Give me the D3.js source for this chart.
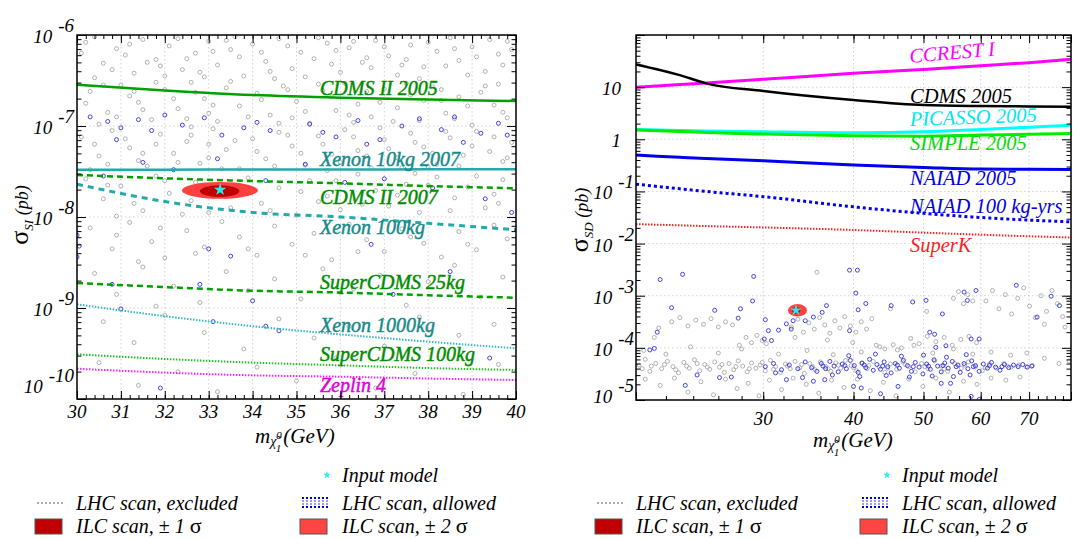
<!DOCTYPE html>
<html>
<head>
<meta charset="utf-8">
<script src="https://cdnjs.cloudflare.com/ajax/libs/d3/7.8.5/d3.min.js"></script>
<style>
  body { margin: 0; background: #fff; }
</style>
</head>
<body>
<div id="chart"></div>
<script>
// ---- data (cross sections as log10 of pb) ----
var leftMass = [30, 32, 34, 36, 38, 40];
var siCdms2005   = [-6.546, -6.61, -6.66, -6.69, -6.71, -6.725];
var siXenon10    = [-7.48, -7.48, -7.478, -7.478, -7.476, -7.476];
var siCdms2007   = [-7.538, -7.575, -7.605, -7.63, -7.66, -7.685];
var siXenon100   = [-7.64, -7.83, -7.95, -8.0, -8.07, -8.14];
var siSuper25    = [-8.725, -8.77, -8.81, -8.83, -8.86, -8.887];
var siXenon1000  = [-8.959, -9.09, -9.2, -9.29, -9.37, -9.443];
var siSuper100   = [-9.509, -9.56, -9.6, -9.63, -9.66, -9.681];
var siZeplin4    = [-9.667, -9.71, -9.74, -9.755, -9.775, -9.791];

var rightMass = [20, 23, 25, 30, 40, 50, 60, 70, 80];
var sdCcrest   = [1.0, 1.05, 1.08, 1.15, 1.265, 1.34, 1.41, 1.47, 1.534];
var sdCdms2005 = [1.437, 1.23, 1.073, 0.925, 0.752, 0.656, 0.637, 0.63, 0.624];
var sdPicasso  = [0.19, 0.17, 0.16, 0.144, 0.125, 0.144, 0.19, 0.23, 0.267];
var sdSimple   = [0.177, 0.15, 0.13, 0.1, 0.067, 0.06, 0.08, 0.097, 0.113];
var sdNaiad    = [-0.303, -0.345, -0.37, -0.413, -0.495, -0.54, -0.572, -0.576, -0.578];
var sdNaiad100 = [-0.86, -0.95, -1.0, -1.10, -1.296, -1.42, -1.5, -1.55, -1.584];
var sdSuperK   = [-1.628, -1.65, -1.665, -1.69, -1.74, -1.79, -1.83, -1.86, -1.883];

// input model and ILC ellipses: [mass, log sigma]; ranges [[m0, m1], [s0, s1]]
var inputSI = [33.26, -7.70];
var ilcSI1 = [[32.8, 33.7], [-7.78, -7.65]];
var ilcSI2 = [[32.39, 34.12], [-7.80, -7.615]];
var inputSD = [33.3, -3.28];
var ilcSD1 = [[32.9, 33.75], [-3.34, -3.22]];
var ilcSD2 = [[32.46, 34.49], [-3.40, -3.16]];

// LHC scan points [mass, log sigma]
var siExcluded = [
  [30.2,-6.08],[30.6,-6.31],[30.9,-6.15],[31.3,-6.42],[31.5,-6.05],[31.8,-6.27],[32.1,-6.12],[32.4,-6.38],[32.7,-6.2],[33.0,-6.07],
  [33.2,-6.33],[33.5,-6.16],[33.8,-6.45],[34.0,-6.1],[34.3,-6.29],[34.6,-6.04],[34.9,-6.37],[35.1,-6.19],[35.4,-6.26],[35.7,-6.09],
  [36.0,-6.41],[36.2,-6.14],[36.5,-6.3],[36.8,-6.06],[37.1,-6.23],[37.3,-6.44],[37.6,-6.11],[37.9,-6.35],[38.2,-6.18],[38.5,-6.03],
  [38.7,-6.28],[39.0,-6.13],[39.3,-6.4],[39.6,-6.21],[39.8,-6.07],[30.4,-6.47],[31.1,-6.22],[32.9,-6.46],[34.5,-6.48],[35.9,-6.17],
  [37.4,-6.33],[38.9,-6.44],[33.6,-6.02],[36.6,-6.25],[31.9,-6.34],
  [30.1,-6.2],[30.4,-6.02],[30.8,-6.38],[31.2,-6.1],[31.6,-6.3],[32.0,-6.45],[32.3,-6.04],[32.5,-6.26],[32.8,-6.41],[33.1,-6.18],
  [33.4,-6.06],[33.7,-6.24],[34.2,-6.19],[34.4,-6.4],[34.8,-6.12],[35.2,-6.46],[35.5,-6.03],[35.8,-6.32],[36.3,-6.07],[36.7,-6.36],
  [37.0,-6.13],[37.2,-6.02],[37.5,-6.27],[37.8,-6.48],[38.0,-6.08],[38.4,-6.34],[38.6,-6.15],[39.1,-6.24],[39.4,-6.05],[39.7,-6.33],
  [39.9,-6.16],
  [30.3,-6.62],[30.7,-6.85],[31.0,-6.55],[31.4,-6.74],[31.7,-6.93],[32.0,-6.6],[32.3,-6.81],[32.6,-6.52],[32.9,-6.7],[33.2,-6.95],
  [33.4,-6.58],[33.7,-6.78],[34.1,-6.64],[34.4,-6.88],[34.7,-6.56],[35.0,-6.73],[35.3,-6.97],[35.6,-6.61],[35.9,-6.83],[36.1,-6.53],
  [36.4,-6.76],[36.7,-6.9],[37.0,-6.59],[37.3,-6.8],[37.6,-6.66],[37.8,-6.94],[38.1,-6.57],[38.4,-6.86],[38.7,-6.68],[39.0,-6.99],
  [39.2,-6.63],[39.5,-6.77],[39.8,-6.91],[30.5,-6.98],[31.2,-6.67],[33.0,-6.86],[34.9,-6.91],[36.3,-6.96],[38.3,-6.72],[39.6,-6.54],
  [30.2,-6.75],[30.6,-6.55],[30.9,-6.9],[31.3,-6.62],[31.5,-6.82],[31.8,-6.52],[32.2,-6.7],[32.5,-6.92],[32.7,-6.63],[33.1,-6.77],
  [33.5,-6.51],[33.9,-6.9],[34.2,-6.71],[34.6,-6.97],[34.8,-6.6],[35.2,-6.84],[35.5,-6.54],[35.8,-6.68],[36.2,-6.88],[36.6,-6.62],
  [36.9,-6.74],[37.2,-6.95],[37.5,-6.53],[37.9,-6.72],[38.3,-6.6],[38.6,-6.92],[38.9,-6.78],[39.3,-6.56],[39.7,-6.85],
  [30.1,-7.12],[30.5,-7.33],[30.8,-7.05],[31.2,-7.24],[31.6,-7.44],[31.9,-7.09],[32.2,-7.3],[32.5,-7.17],[32.8,-7.41],[33.1,-7.03],
  [33.4,-7.26],[33.7,-7.47],[34.0,-7.14],[34.3,-7.36],[34.6,-7.07],[34.9,-7.22],[35.2,-7.43],[35.5,-7.11],[35.8,-7.31],[36.1,-7.04],
  [36.4,-7.27],[36.7,-7.46],[37.0,-7.15],[37.3,-7.35],[37.6,-7.08],[37.9,-7.23],[38.2,-7.42],[38.5,-7.13],[38.8,-7.32],[39.1,-7.06],
  [39.4,-7.28],[39.7,-7.39],[30.3,-7.48],[31.4,-7.38],[33.0,-7.2],[35.7,-7.49],[36.9,-7.02],[38.0,-7.45],[39.9,-7.18],[32.6,-7.01],
  [30.4,-7.2],[30.7,-7.42],[31.1,-7.14],[31.5,-7.3],[31.8,-7.2],[32.3,-7.4],[32.6,-7.1],[33.0,-7.35],[33.3,-7.47],[33.6,-7.16],
  [34.1,-7.28],[34.5,-7.44],[34.8,-7.1],[35.1,-7.3],[35.6,-7.2],[36.0,-7.4],[36.3,-7.12],[36.6,-7.33],[37.1,-7.25],[37.4,-7.46],
  [37.7,-7.18],[38.1,-7.3],[38.4,-7.06],[38.7,-7.44],[39.0,-7.22],[39.5,-7.12],[39.8,-7.35],
  [30.2,-7.58],[30.6,-7.8],[31.0,-7.66],[31.5,-7.93],[31.8,-7.55],[32.1,-7.74],[32.4,-7.97],[32.7,-7.62],[33.5,-7.9],[33.9,-7.57],
  [34.2,-7.85],[34.6,-7.68],[35.0,-7.98],[35.3,-7.6],[35.7,-7.77],[36.0,-7.92],[36.4,-7.53],[36.8,-7.71],[37.1,-7.88],[37.5,-7.64],
  [37.8,-7.95],[38.2,-7.56],[38.6,-7.79],[38.9,-7.67],[39.3,-7.9],[39.7,-7.59],[30.9,-7.99],[35.5,-7.83],[37.7,-7.52],[39.5,-7.75],
  [30.7,-7.65],[31.3,-7.85],[32.0,-7.6],[32.6,-7.82],[33.0,-7.95],[33.8,-7.7],[34.4,-7.93],[35.1,-7.72],[35.9,-7.6],[36.5,-7.86],
  [37.3,-7.76],[38.0,-7.65],[38.5,-7.93],[39.1,-7.55],[39.6,-7.85],
  [30.3,-8.12],[30.8,-8.35],[31.2,-8.06],[31.7,-8.27],[32.0,-8.45],[32.5,-8.15],[32.9,-8.33],[33.3,-8.05],[33.7,-8.22],[34.1,-8.42],
  [34.5,-8.1],[34.9,-8.3],[35.4,-8.18],[35.8,-8.47],[36.2,-8.08],[36.6,-8.25],[37.0,-8.38],[37.4,-8.13],[37.9,-8.29],[38.3,-8.44],
  [38.7,-8.16],[39.1,-8.36],[39.5,-8.09],[39.8,-8.24],[31.4,-8.49],
  [30.9,-8.2],[31.9,-8.12],[32.7,-8.4],[33.9,-8.35],[35.2,-8.42],[36.4,-8.38],[37.6,-8.22],[38.9,-8.3],
  [30.4,-8.62],[30.9,-8.85],[31.5,-8.55],[32.2,-8.76],[32.8,-8.94],[33.4,-8.6],[33.9,-8.81],[34.5,-8.68],[35.1,-8.9],[35.6,-8.57],
  [36.3,-8.79],[36.9,-8.64],[37.5,-8.97],[38.0,-8.71],[38.6,-8.53],[39.2,-8.88],[39.7,-8.66],[31.8,-8.98],
  [30.6,-9.15],[31.3,-9.38],[32.0,-9.08],[32.9,-9.27],[33.8,-9.45],[34.6,-9.12],[35.4,-9.33],[36.2,-9.2],[37.0,-9.42],[37.8,-9.1],
  [38.7,-9.3],[39.5,-9.18],
  [30.5,-9.6],[31.4,-9.85],[32.3,-9.7],[33.2,-9.92],[34.1,-9.65],[35.0,-9.8],[35.9,-9.55],[36.8,-9.88],[37.7,-9.72],[38.8,-9.95],[39.6,-9.62]
];
var siAllowed = [
  [30.3,-6.9],[30.7,-6.95],[31.0,-7.02],[31.4,-6.93],[32.0,-6.88],[32.4,-6.99],[32.9,-6.91],[33.3,-7.1],[34.1,-6.96],[34.4,-7.05],
  [35.3,-6.98],[35.9,-7.12],[36.4,-6.94],[36.9,-7.15],[37.4,-7.0],[37.8,-6.92],[38.3,-7.04],[38.8,-7.18],[39.2,-7.08],[39.6,-6.97],
  [30.9,-7.15],[31.7,-7.05],[33.8,-7.02],[35.6,-7.07],[36.6,-7.2],[38.6,-6.9],[39.8,-7.1],
  [30.6,-7.55],[31.5,-7.4],[32.2,-7.48],[33.2,-7.36],[34.3,-7.6],[35.2,-7.42],[36.1,-7.62],[37.0,-7.58],[38.1,-7.68],[39.3,-7.8],
  [39.9,-7.95],[30.0,-8.2],[30.05,-8.32],[30.0,-8.44],[30.8,-8.74],[31.0,-9.01],[32.8,-8.74],[33.0,-8.35],[33.5,-8.43],[34.0,-8.92],
  [34.3,-9.2],[34.6,-9.25],[33.1,-9.15],[31.9,-9.88],[37.2,-8.85],[38.5,-8.6],[39.4,-9.55],[36.7,-8.3]
];
var sdExcluded = [
  [20.2,-4.33],[20.6,-4.22],[20.9,-4.45],[21.3,-4.3],[21.7,-4.4],[22.1,-4.26],[22.5,-4.36],[22.9,-4.48],[23.3,-4.28],[23.7,-4.39],
  [24.1,-4.23],[24.5,-4.44],[24.9,-4.32],[25.3,-4.41],[25.7,-4.27],[26.1,-4.37],[26.5,-4.47],[26.9,-4.3],[27.3,-4.42],[27.7,-4.25],
  [28.1,-4.35],[28.5,-4.46],[28.9,-4.29],[29.3,-4.39],[29.7,-4.33],[30.2,-4.44],[30.7,-4.24],[31.2,-4.36],[31.7,-4.47],[32.2,-4.31],
  [32.7,-4.4],[33.2,-4.26],[33.7,-4.38],[34.2,-4.49],[34.8,-4.3],[35.4,-4.42],[36.0,-4.27],[36.6,-4.36],[37.2,-4.45],[37.8,-4.29],
  [38.4,-4.39],[39.0,-4.24],[39.7,-4.34],[40.4,-4.44],[41.1,-4.3],[41.8,-4.4],[42.6,-4.26],[43.4,-4.37],[44.2,-4.47],[45.0,-4.31],
  [45.9,-4.41],[46.8,-4.27],[47.7,-4.36],[48.7,-4.46],[49.7,-4.3],[50.7,-4.4],[51.8,-4.25],[52.9,-4.35],[54.0,-4.45],[55.2,-4.3],
  [56.4,-4.39],[57.7,-4.27],[59.0,-4.36],[60.3,-4.44],[61.7,-4.31],[63.1,-4.39],[64.6,-4.3],[66.1,-4.37],[67.7,-4.33],[69.3,-4.36],
  [70.8,-4.34],
  [20.4,-4.4],[21.0,-4.35],[21.9,-4.32],[22.7,-4.42],[23.5,-4.35],[24.3,-4.3],[25.1,-4.37],[26.3,-4.32],[27.5,-4.36],[28.7,-4.4],
  [29.9,-4.28],[31.0,-4.41],[32.4,-4.35],[33.9,-4.32],[35.1,-4.36],[36.9,-4.4],[38.1,-4.33],[40.0,-4.38],[42.0,-4.34],[44.6,-4.39],
  [47.2,-4.32],[50.2,-4.36],[53.4,-4.4],[57.0,-4.33],[60.9,-4.38],[65.3,-4.35],
  [20.5,-4.05],[22.0,-4.12],[23.8,-3.98],[26.0,-4.1],[28.0,-4.02],[31.5,-4.12],[34.5,-4.05],[37.5,-4.13],[41.0,-4.08],[43.5,-3.98],
  [46.0,-4.04],[48.5,-3.95],[51.5,-4.1],[55.0,-4.02],[58.5,-4.12],[62.0,-4.08],[66.0,-4.14],[69.5,-4.1],[73.5,-4.2],[77.0,-4.3],
  [79.5,-4.25],
  [20.6,-4.6],[21.6,-4.72],[22.6,-4.58],[23.6,-4.85],[24.6,-4.65],[25.6,-4.9],[26.6,-4.6],[27.6,-4.78],[28.6,-4.68],[29.6,-4.92],
  [30.6,-4.62],[31.8,-4.8],[33.0,-4.58],[34.4,-4.7],[35.8,-4.87],[37.3,-4.62],[38.8,-4.76],[40.5,-4.6],[42.2,-4.82],[44.0,-4.66],
  [45.8,-4.92],[47.7,-4.6],[49.9,-4.74],[52.0,-4.58],[54.3,-4.85],[56.8,-4.64],[59.3,-4.7],[62.0,-4.58],[65.0,-4.62],[68.0,-4.56],
  [22.4,-3.5],[23.0,-3.42],[23.6,-3.58],[24.2,-3.47],[24.8,-3.55],[25.4,-3.44],[26.0,-3.6],[26.6,-3.5],[27.2,-3.56],[21.5,-3.62],
  [21.2,-3.8],[28.4,-3.8],[28.9,-3.9],[29.4,-3.76],[29.9,-3.86],[30.3,-3.92],[27.8,-3.95],
  [32.8,-3.6],[33.5,-3.45],[34.1,-3.7],[34.7,-3.52],[35.3,-3.64],[35.9,-3.42],[36.5,-3.56],[37.1,-3.72],[37.7,-3.48],[38.3,-3.62],
  [38.9,-3.4],[39.6,-3.58],[40.3,-3.7],[41.0,-3.5],[41.7,-3.64],[42.4,-3.44],[36.8,-3.85],[39.9,-3.9],[33.2,-3.8],
  [43.0,-3.95],[44.2,-4.02],[45.4,-3.94],[46.6,-4.0],
  [48.0,-3.82],[49.3,-3.92],[50.6,-3.78],[52.0,-3.88],[53.4,-3.8],[54.8,-3.95],[56.3,-3.84],[57.8,-3.78],[59.2,-3.9],
  [55.0,-3.05],[55.9,-2.92],[56.8,-3.15],[57.6,-2.98],[58.5,-3.1],
  [61.0,-3.1],[62.3,-2.9],[63.6,-3.25],[64.9,-2.98],[66.2,-3.35],[67.5,-3.05],[68.8,-2.85],[70.1,-3.2],[71.4,-3.42],[72.7,-3.0],
  [74.0,-3.3],[75.3,-2.9],[76.6,-3.15],[77.9,-3.4],[79.2,-3.05],[73.5,-3.55],[78.5,-3.6],
  [35.6,-2.55],[45.0,-3.25],[50.5,-3.3]
];
var sdAllowed = [
  [30.2,-4.36],[31.0,-4.3],[31.8,-4.42],[32.6,-4.33],[33.5,-4.4],[34.3,-4.27],[35.0,-4.38],[35.6,-4.45],[36.1,-4.3],[36.6,-4.4],
  [37.1,-4.26],[37.6,-4.35],[38.1,-4.46],[38.6,-4.31],[39.1,-4.4],[39.6,-4.24],[40.1,-4.34],[40.6,-4.47],[41.1,-4.29],[41.6,-4.38],
  [42.1,-4.22],[42.6,-4.43],[43.1,-4.32],[43.6,-4.41],[44.1,-4.27],[44.6,-4.36],[45.1,-4.48],[45.7,-4.3],[46.3,-4.39],[46.9,-4.24],
  [47.5,-4.34],[48.1,-4.45],[48.7,-4.28],[49.3,-4.37],[49.9,-4.5],[50.5,-4.31],[51.1,-4.41],[51.7,-4.23],[52.3,-4.35],[52.9,-4.46],
  [53.5,-4.29],[54.1,-4.39],[54.8,-4.26],[55.5,-4.36],[56.2,-4.47],[56.9,-4.3],[57.6,-4.4],[58.3,-4.25],[59.0,-4.34],[59.7,-4.45],
  [60.5,-4.31],[61.3,-4.39],[62.1,-4.28],[62.9,-4.37],[63.8,-4.43],[64.7,-4.32],[65.6,-4.38],[66.6,-4.33],[67.6,-4.36],[68.6,-4.32],
  [69.6,-4.37],[70.6,-4.35],
  [36.3,-4.35],[38.9,-4.34],[41.4,-4.33],[43.9,-4.35],[46.0,-4.33],[48.4,-4.36],[50.8,-4.35],[53.2,-4.34],[55.8,-4.33],[58.6,-4.36],
  [61.7,-4.34],[64.2,-4.36],
  [37.4,-4.52],[40.8,-4.55],[44.4,-4.53],[47.8,-4.56],[51.4,-4.54],[55.0,-4.55],[58.0,-4.52],
  [39.4,-4.15],[42.9,-4.12],[46.6,-4.16],[50.0,-4.14],[53.8,-4.18],[57.3,-4.13],
  [21.6,-2.69],[23.2,-2.59],[29.1,-2.63],[39.5,-2.51],[40.5,-2.51],[22.4,-3.23],[21.4,-3.7],[20.9,-4.04],[21.2,-4.01],[25.7,-3.28],
  [29.0,-3.1],[27.9,-3.25],[27.7,-3.43],[30.2,-3.46],[30.5,-3.67],[31.5,-3.66],[30.1,-3.83],[30.8,-3.86],[32.3,-3.54],[33.0,-3.48],
  [32.8,-3.64],[34.3,-3.48],[35.2,-3.41],[36.2,-3.32],[36.7,-3.19],[40.3,-2.95],[41.6,-3.15],[40.6,-3.27],[39.5,-3.67],[45.1,-3.19],
  [48.3,-3.12],[50.4,-3.09],[53.1,-3.35],[51.0,-3.7],[51.8,-3.74],[52.0,-3.99],[53.7,-3.96],[56.9,-2.93],[57.5,-3.09],[59.1,-2.9],
  [58.2,-3.83],[59.7,-3.83],[67.2,-2.8],[71.8,-3.41],[75.1,-3.01],[77.1,-3.19],
  [23.4,-4.72],[26.1,-4.57],[24.3,-4.52],[27.1,-4.56],[31.2,-4.48],[32.3,-4.61],[34.0,-4.57],[35.2,-4.64],[36.5,-4.61],[40.0,-4.74],
  [41.0,-4.77],[43.6,-4.88],[46.1,-4.74],[52.9,-4.68],[54.5,-4.68],[58.2,-4.93],[59.7,-4.99]
];

var leftTicksX = d3.range(30, 41, 1);
var rightTicksX = [30, 40, 50, 60, 70];

// ---- layout ----
var width = 1073, height = 539;
var svg = d3.select("#chart").append("svg")
  .attr("width", width).attr("height", height)
  .style("font-family", "'Liberation Serif', 'Times New Roman', serif")
  .style("font-style", "italic");

function p10(v) { return Math.pow(10, v); }

var panels = [
  {
    id: "si",
    box: {left: 77, right: 516, top: 35, bottom: 399},
    x: d3.scaleLinear().domain([30, 40]),
    y: d3.scaleLog().domain([1e-10, 1e-6]),
    decades: [-10, -9, -8, -7, -6], skipTopLabel: false,
    gridX: d3.range(31, 40, 1),
    majX: leftTicksX, minX: d3.range(30, 40.01, 0.2),
    labX: leftTicksX, labXy: 418,
    yLabRight: 74, yLabOff: 8, yLabBottomOff: -6,
    mass: leftMass,
    curves: [
      {v: siCdms2005, c: "#00a000", w: 2.5, d: null, label: "CDMS II 2005", lc: "#008c00", ly: 95},
      {v: siXenon10, c: "#22aaaa", w: 2.5, d: null, label: "Xenon 10kg 2007", lc: "#168a8a", ly: 166},
      {v: siCdms2007, c: "#00a000", w: 2.5, d: "6,4", label: "CDMS II 2007", lc: "#008c00", ly: 204},
      {v: siXenon100, c: "#22aaaa", w: 3, d: "6,5", label: "Xenon 100kg", lc: "#168a8a", ly: 234},
      {v: siSuper25, c: "#00a000", w: 2.5, d: "6,4", label: "SuperCDMS 25kg", lc: "#008c00", ly: 289},
      {v: siXenon1000, c: "#33bbbb", w: 2, d: "1.5,1.5", label: "Xenon 1000kg", lc: "#168a8a", ly: 332},
      {v: siSuper100, c: "#22bb22", w: 2, d: "1.5,1.5", label: "SuperCDMS 100kg", lc: "#008c00", ly: 361},
      {v: siZeplin4, c: "#ff22ff", w: 2, d: "1.5,1.5", label: "Zeplin 4", lc: "#dd00dd", ly: 392}
    ],
    labelX: 320, bold: true,
    excluded: siExcluded, allowed: siAllowed,
    ilc1: ilcSI1, ilc2: ilcSI2, input: inputSI, starSize: 50
  },
  {
    id: "sd",
    box: {left: 636, right: 1071, top: 35, bottom: 400},
    x: d3.scaleLog().domain([20, 80]),
    y: d3.scaleLog().domain([1e-5, 1e2]),
    decades: [-5, -4, -3, -2, -1, 0, 1, 2], skipTopLabel: true,
    gridX: rightTicksX,
    majX: d3.range(20, 81, 10), minX: d3.range(20, 80.1, 2),
    labX: rightTicksX, labXy: 425,
    yLabRight: 634, yLabOff: 8, yLabBottomOff: 3,
    mass: rightMass,
    curves: [
      {v: sdCcrest, c: "#ff00ff", w: 3, d: null, label: "CCREST I", lc: "#ff00ff", ly: 63, rot: -5},
      {v: sdCdms2005, c: "#000000", w: 2.5, d: null, label: "CDMS 2005", lc: "#000000", ly: 103},
      {v: sdPicasso, c: "#00ffff", w: 3, d: null, label: "PICASSO 2005", lc: "#00e6f0", ly: 126, rot: -2},
      {v: sdSimple, c: "#00ee00", w: 3, d: null, label: "SIMPLE 2005", lc: "#00dd00", ly: 150},
      {v: sdNaiad, c: "#0000ee", w: 3, d: null, label: "NAIAD 2005", lc: "#0000e0", ly: 185},
      {v: sdNaiad100, c: "#0000ee", w: 3, d: "3,3", label: "NAIAD 100 kg-yrs", lc: "#0000e0", ly: 213},
      {v: sdSuperK, c: "#ff2020", w: 2, d: "1.5,1.5", label: "SuperK", lc: "#ff2020", ly: 252}
    ],
    labelX: 910, bold: false,
    excluded: sdExcluded, allowed: sdAllowed,
    ilc1: ilcSD1, ilc2: ilcSD2, input: inputSD, starSize: 40
  }
];

panels.forEach(function(P) {
  var b = P.box, x = P.x.range([b.left, b.right]), y = P.y.range([b.bottom, b.top]);
  var g = svg.append("g").attr("class", "panel-" + P.id);

  g.append("clipPath").attr("id", "clip-" + P.id)
    .append("rect").attr("x", b.left).attr("y", b.top)
    .attr("width", b.right - b.left).attr("height", b.bottom - b.top);

  // grid
  var grid = g.append("g").attr("stroke", "#c8c8c8").attr("stroke-width", 0.8)
    .attr("stroke-dasharray", "1.5,2.5");
  grid.selectAll(null).data(P.gridX).enter().append("line")
    .attr("x1", d => x(d)).attr("x2", d => x(d)).attr("y1", b.top).attr("y2", b.bottom);
  grid.selectAll(null).data(P.decades.slice(1, -1)).enter().append("line")
    .attr("x1", b.left).attr("x2", b.right).attr("y1", d => y(p10(d))).attr("y2", d => y(p10(d)));

  var inner = g.append("g").attr("clip-path", "url(#clip-" + P.id + ")");

  // LHC scan points
  function pts(data, col) {
    inner.append("g").selectAll("circle").data(data).enter().append("circle")
      .attr("cx", d => x(d[0])).attr("cy", d => y(p10(d[1]))).attr("r", 2)
      .attr("fill", "none").attr("stroke", col).attr("stroke-width", 0.9);
  }
  pts(P.excluded, "#a8a8a8");
  pts(P.allowed, "#3030dd");

  // limit curves
  var line = d3.line().curve(d3.curveMonotoneX)
    .x(d => x(d[0])).y(d => y(p10(d[1])));
  P.curves.forEach(function(c) {
    inner.append("path")
      .datum(P.mass.map((m, i) => [m, c.v[i]]))
      .attr("d", line).attr("fill", "none")
      .attr("stroke", c.c).attr("stroke-width", c.w)
      .attr("stroke-dasharray", c.d);
  });

  // ILC ellipses + input model
  function ell(r, col) {
    var cx = (x(r[0][0]) + x(r[0][1])) / 2, cy = (y(p10(r[1][0])) + y(p10(r[1][1]))) / 2;
    inner.append("ellipse").attr("cx", cx).attr("cy", cy)
      .attr("rx", Math.abs(x(r[0][1]) - x(r[0][0])) / 2)
      .attr("ry", Math.abs(y(p10(r[1][1])) - y(p10(r[1][0]))) / 2)
      .attr("fill", col);
  }
  ell(P.ilc2, "#ff4040");
  ell(P.ilc1, "#c00000");
  inner.append("path").attr("d", d3.symbol(d3.symbolStar, P.starSize))
    .attr("transform", "translate(" + x(P.input[0]) + "," + y(p10(P.input[1])) + ")")
    .attr("fill", "#22eeee");

  // curve labels
  P.curves.forEach(function(c) {
    var t = g.append("text").attr("x", P.labelX).attr("y", c.ly)
      .attr("fill", c.lc).style("font-size", P.bold ? "20px" : "20.5px")
      .text(c.label);
    if (P.bold) t.attr("stroke", c.lc).attr("stroke-width", 0.45);
    if (c.rot) t.attr("transform", "rotate(" + c.rot + "," + P.labelX + "," + c.ly + ")");
  });

  // ticks on all four sides, pointing inwards
  function ticks(axis, tx, ty, vals, len) {
    g.append("g").attr("transform", "translate(" + tx + "," + ty + ")")
      .call(axis.tickValues(vals).tickSize(-len).tickFormat(""))
      .call(s => s.select(".domain").remove())
      .call(s => s.selectAll("line").attr("stroke", "#000").attr("stroke-width", 1));
  }
  var minY = [];
  P.decades.slice(0, -1).forEach(function(e) {
    for (var k = 2; k < 10; k++) minY.push(k * p10(e));
  });
  var majY = P.decades.map(p10);
  ticks(d3.axisBottom(x), 0, b.bottom, P.majX, 8);
  ticks(d3.axisBottom(x), 0, b.bottom, P.minX, 4);
  ticks(d3.axisTop(x), 0, b.top, P.majX, 8);
  ticks(d3.axisTop(x), 0, b.top, P.minX, 4);
  ticks(d3.axisLeft(y), b.left, 0, majY, 9);
  ticks(d3.axisLeft(y), b.left, 0, minY, 4.5);
  ticks(d3.axisRight(y), b.right, 0, majY, 9);
  ticks(d3.axisRight(y), b.right, 0, minY, 4.5);

  g.append("rect").attr("x", b.left).attr("y", b.top)
    .attr("width", b.right - b.left).attr("height", b.bottom - b.top)
    .attr("fill", "none").attr("stroke", "#000").attr("stroke-width", 1.5);

  // x tick labels
  g.selectAll(null).data(P.labX).enter().append("text")
    .attr("x", d => x(d)).attr("y", P.labXy).attr("text-anchor", "middle")
    .style("font-size", "19px").text(d => d);

  // y tick labels (10^n)
  P.decades.forEach(function(e, i) {
    if (P.skipTopLabel && i === P.decades.length - 1) return;
    var yy = y(p10(e));
    var off = i === 0 ? P.yLabBottomOff : P.yLabOff;
    var t = g.append("text").attr("text-anchor", "end").style("font-size", "19px")
      .attr("y", yy + off);
    if (e === 0 || e === 1) {
      t.attr("x", P.yLabRight - 13).text(e === 0 ? "1" : "10");
    } else {
      t.attr("x", P.yLabRight);
      t.append("tspan").text("10");
      t.append("tspan").attr("dx", 6).attr("dy", -11).text("-" + Math.abs(e));
    }
  });
});

// axis titles
function massTitle(x0, yb) {
  var t = svg.append("text").attr("x", x0).attr("y", yb).style("font-size", "21px");
  t.append("tspan").text("m");
  t.append("tspan").attr("dy", 3).style("font-size", "14px").text("\u03c7\u0303");
  t.append("tspan").attr("dy", -7).attr("dx", 0).style("font-size", "11px").text("0");
  t.append("tspan").attr("dx", -6).attr("dy", 13).style("font-size", "11px").text("1");
  t.append("tspan").attr("dy", -9).attr("dx", 2).text("(GeV)");
}
massTitle(255, 443);
massTitle(813, 447);

function sigmaTitle(cx, cy, sub) {
  var t = svg.append("text").attr("text-anchor", "middle")
    .attr("transform", "translate(" + cx + "," + cy + ") rotate(-90)");
  t.append("tspan").style("font-size", "26px").style("font-style", "normal").text("\u03c3");
  t.append("tspan").attr("dy", 5).style("font-size", "13px").text(sub);
  t.append("tspan").attr("dy", -5).style("font-size", "18px").text(" (pb)");
}
sigmaTitle(28, 215, "SI");
sigmaTitle(588, 220, "SD");

// legends
function legend(ox) {
  var g = svg.append("g").attr("transform", "translate(" + ox + ",0)");
  g.append("path").attr("d", d3.symbol(d3.symbolStar, 18))
    .attr("transform", "translate(327,475)").attr("fill", "#22eeee");
  g.append("line").attr("x1", 37).attr("x2", 63).attr("y1", 503).attr("y2", 503)
    .attr("stroke", "#aaaaaa").attr("stroke-width", 2).attr("stroke-dasharray", "2,2");
  [[-5, "#0000cc"], [-2, "#9999ff"], [1, "#9999ff"], [4, "#0000cc"]].forEach(function(r) {
    g.append("line").attr("x1", 302).attr("x2", 328).attr("y1", 503 + r[0]).attr("y2", 503 + r[0])
      .attr("stroke", r[1]).attr("stroke-width", 2).attr("stroke-dasharray", "2,2");
  });
  g.append("rect").attr("x", 35).attr("y", 519).attr("width", 27).attr("height", 15)
    .attr("fill", "#c00000").attr("stroke", "#555").attr("stroke-width", 1);
  g.append("rect").attr("x", 300).attr("y", 519).attr("width", 27).attr("height", 15)
    .attr("fill", "#ff4444").attr("stroke", "#555").attr("stroke-width", 1);

  function txt(xx, yy, s) {
    return g.append("text").attr("x", xx).attr("y", yy).style("font-size", "20px").text(s);
  }
  txt(342, 482, "Input model");
  txt(76, 510, "LHC scan, excluded");
  txt(342, 510, "LHC scan, allowed");
  [[76, "1"], [342, "2"]].forEach(function(d) {
    var t = txt(d[0], 533, "ILC scan, ");
    t.append("tspan").style("font-style", "normal").text("\u00b1 ");
    t.append("tspan").text(d[1] + " ");
    t.append("tspan").style("font-style", "normal").style("font-size", "22px").text("\u03c3");
  });
}
legend(0);
legend(560);
</script>
</body>
</html>
